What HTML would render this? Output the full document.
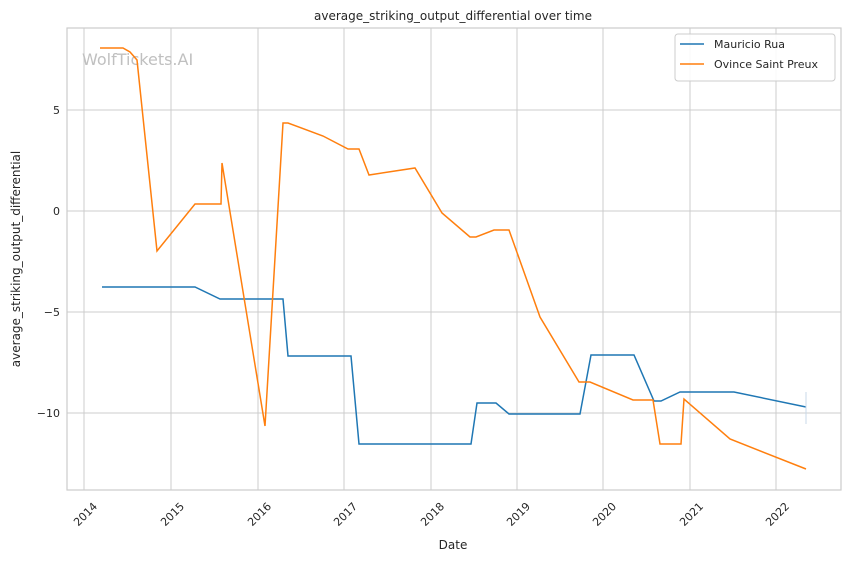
<!DOCTYPE html>
<html><head><meta charset="utf-8"><style>
body{margin:0;background:#fff;}
text{font-family:"DejaVu Sans","Liberation Sans",sans-serif;fill:#262626;}
</style></head><body>
<svg width="850" height="561" xmlns="http://www.w3.org/2000/svg">
<rect width="850" height="561" fill="#fff"/>
<g stroke="#cccccc" stroke-width="1">
<line x1="84" y1="28" x2="84" y2="490"/><line x1="171" y1="28" x2="171" y2="490"/>
<line x1="258" y1="28" x2="258" y2="490"/><line x1="344" y1="28" x2="344" y2="490"/>
<line x1="431" y1="28" x2="431" y2="490"/><line x1="517" y1="28" x2="517" y2="490"/>
<line x1="603" y1="28" x2="603" y2="490"/><line x1="690" y1="28" x2="690" y2="490"/>
<line x1="776" y1="28" x2="776" y2="490"/>
<line x1="67" y1="110" x2="841" y2="110"/><line x1="67" y1="211" x2="841" y2="211"/>
<line x1="67" y1="312" x2="841" y2="312"/><line x1="67" y1="413" x2="841" y2="413"/>
</g>
<rect x="67" y="28" width="774" height="462" fill="none" stroke="#cccccc" stroke-width="1.2"/>
<text x="82" y="65" font-size="16" style="fill:#c0c0c0">WolfTickets.AI</text>
<g font-size="11" text-anchor="end">
<text x="60" y="114">5</text><text x="60" y="215">0</text>
<text x="60" y="316">−5</text><text x="60" y="417">−10</text>
</g>
<g font-size="11">
<text transform="translate(98,507) rotate(-45)" text-anchor="end">2014</text>
<text transform="translate(185,507) rotate(-45)" text-anchor="end">2015</text>
<text transform="translate(272,507) rotate(-45)" text-anchor="end">2016</text>
<text transform="translate(358,507) rotate(-45)" text-anchor="end">2017</text>
<text transform="translate(445,507) rotate(-45)" text-anchor="end">2018</text>
<text transform="translate(531,507) rotate(-45)" text-anchor="end">2019</text>
<text transform="translate(617,507) rotate(-45)" text-anchor="end">2020</text>
<text transform="translate(704,507) rotate(-45)" text-anchor="end">2021</text>
<text transform="translate(790,507) rotate(-45)" text-anchor="end">2022</text>
</g>
<text x="453" y="549" font-size="12" text-anchor="middle">Date</text>
<text transform="translate(20,259) rotate(-90)" font-size="12" text-anchor="middle">average_striking_output_differential</text>
<text x="453" y="20" font-size="12" text-anchor="middle">average_striking_output_differential over time</text>
<polyline fill="none" stroke="#1f77b4" stroke-width="1.5" points="102,287 195,287 220,299 283,299 288,356 351,356 359,444 471,444 477,403 496,403 509,414 580,414 591,355 634,355 654,401 661,401 680,392 734,392 806,407"/>
<line x1="806" y1="392" x2="806" y2="424" stroke="#c8d8e8" stroke-width="1"/>
<polyline fill="none" stroke="#ff7f0e" stroke-width="1.5" points="100,48 123,48 130,52 137,60 157,251 195,204 221,204 222,163 265,426 283,123 288,123 323,136 348,149 359,149 369,175 415,168 442,213 470,237 476,237 494,230 509,230 540,317 579,382 590,382 633,400 653,400 660,444 681,444 684,399 730,439 806,469"/>
<rect x="675" y="34" width="160" height="47" rx="3" fill="#fff" fill-opacity="0.85" stroke="#cccccc"/>
<line x1="680" y1="44" x2="704" y2="44" stroke="#1f77b4" stroke-width="1.5"/>
<text x="714" y="48" font-size="11">Mauricio Rua</text>
<line x1="680" y1="64" x2="704" y2="64" stroke="#ff7f0e" stroke-width="1.5"/>
<text x="714" y="68" font-size="11">Ovince Saint Preux</text>
</svg>
</body></html>
